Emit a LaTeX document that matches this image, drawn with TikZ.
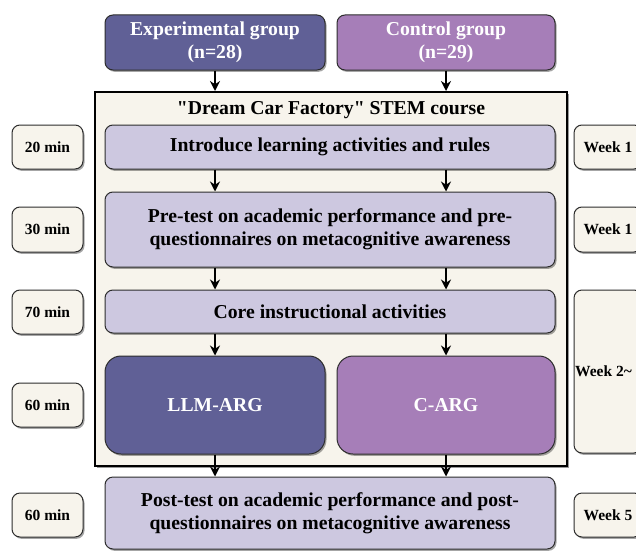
\documentclass[tikz,border=0pt]{standalone}
\usepackage{fontspec}
\setmainfont{Liberation Serif}
\usetikzlibrary{arrows.meta,shadows}

\definecolor{expcol}{RGB}{96,96,150}
\definecolor{ctrlcol}{RGB}{166,126,184}
\definecolor{lav}{RGB}{205,200,224}
\definecolor{cream}{RGB}{247,244,236}
\definecolor{edgecol}{RGB}{45,45,45}

\tikzset{
  softshadow/.style={drop shadow={shadow xshift=1.5pt,shadow yshift=-1.8pt,opacity=0.35,fill=black}},
  bigfont/.style={font=\bfseries\fontsize{19.7}{23}\selectfont},
  smallfont/.style={font=\bfseries\fontsize{15.5}{18}\selectfont},
  stagebox/.style={draw=edgecol, line width=1pt, rounded corners=8pt, fill=lav,
    align=center, inner sep=0pt, bigfont, softshadow},
  groupbox/.style={draw=edgecol, line width=1pt, rounded corners=8pt,
    align=center, inner sep=0pt, bigfont, text=white, softshadow},
  armbox/.style={groupbox, rounded corners=16pt},
  sidebox/.style={draw=edgecol, line width=1pt, rounded corners=8pt, fill=cream,
    align=center, inner sep=0pt, smallfont, softshadow},
  coursebox/.style={draw=black, line width=2pt, fill=cream, inner sep=0pt,
    drop shadow={shadow xshift=2pt,shadow yshift=-2pt,opacity=0.4,fill=black}},
  flow/.style={draw=black, line width=1.7pt, -{Stealth[length=10pt,width=10pt]}},
}

\begin{document}
\begin{tikzpicture}[x=1pt,y=-1pt]
  \clip (0,0) rectangle (636,551);
  \fill[white] (0,0) rectangle (636,551);

  % the two groups
  \node[groupbox, fill=expcol, minimum width=220pt, minimum height=55pt] (exp) at (215,42.5)
    {Experimental group\\(n=28)};
  \node[groupbox, fill=ctrlcol, minimum width=218pt, minimum height=55pt] (ctrl) at (446,42.5)
    {Control group\\(n=29)};

  % course frame and its stages
  \node[coursebox, minimum width=472pt, minimum height=374pt] (course) at (331,279) {};
  \node[bigfont] (title) at (331,110) {\textquotedbl Dream Car Factory\textquotedbl{} STEM course};

  \node[stagebox, minimum width=450pt, minimum height=44pt] (intro) at (330,147)
    {Introduce learning activities and rules};
  \node[stagebox, minimum width=450pt, minimum height=75pt] (pre) at (330,229.5)
    {Pre-test on academic performance and pre-\\questionnaires on metacognitive awareness};
  \node[stagebox, minimum width=450pt, minimum height=43pt] (core) at (330,311.5)
    {Core instructional activities};
  \node[armbox, fill=expcol, minimum width=220pt, minimum height=98pt] (llm) at (215,405)
    {LLM-ARG};
  \node[armbox, fill=ctrlcol, minimum width=218pt, minimum height=98pt] (carg) at (446,405)
    {C-ARG};
  \node[stagebox, minimum width=450pt, minimum height=72pt] (post) at (330,513)
    {Post-test on academic performance and post-\\questionnaires on metacognitive awareness};

  % durations
  \node[sidebox, minimum width=71pt, minimum height=44pt] (d1) at (47.5,147) {20 min};
  \node[sidebox, minimum width=71pt, minimum height=45pt] (d2) at (47.5,229.5) {30 min};
  \node[sidebox, minimum width=71pt, minimum height=44pt] (d3) at (47.5,312) {70 min};
  \node[sidebox, minimum width=71pt, minimum height=44pt] (d4) at (47.5,405) {60 min};
  \node[sidebox, minimum width=71pt, minimum height=44pt] (d5) at (47.5,515) {60 min};

  % schedule
  \node[sidebox, minimum width=68pt, minimum height=44pt] (w1) at (608,147) {Week 1};
  \node[sidebox, minimum width=68pt, minimum height=45pt] (w2) at (608,229.5) {Week 1};
  \node[sidebox, minimum width=68pt, minimum height=163pt] (w3) at (608,371.5) {};
  \node[smallfont, anchor=west, inner sep=0pt] (w3t) at (575,371.5) {Week 2\textasciitilde};
  \node[sidebox, minimum width=68pt, minimum height=44pt] (w4) at (608,515) {Week 5};

  % flow arrows
  \draw[flow] (exp.south) -- (exp.south |- course.north);
  \draw[flow] (ctrl.south) -- (ctrl.south |- course.north);
  \draw[flow] (intro.south -| exp.south) -- (pre.north -| exp.south);
  \draw[flow] (intro.south -| ctrl.south) -- (pre.north -| ctrl.south);
  \draw[flow] (pre.south -| exp.south) -- (core.north -| exp.south);
  \draw[flow] (pre.south -| ctrl.south) -- (core.north -| ctrl.south);
  \draw[flow] (core.south -| llm.north) -- (llm.north);
  \draw[flow] (core.south -| carg.north) -- (carg.north);
  \draw[flow] (llm.south) -- (post.north -| llm.south);
  \draw[flow] (carg.south) -- (post.north -| carg.south);
\end{tikzpicture}
\end{document}
